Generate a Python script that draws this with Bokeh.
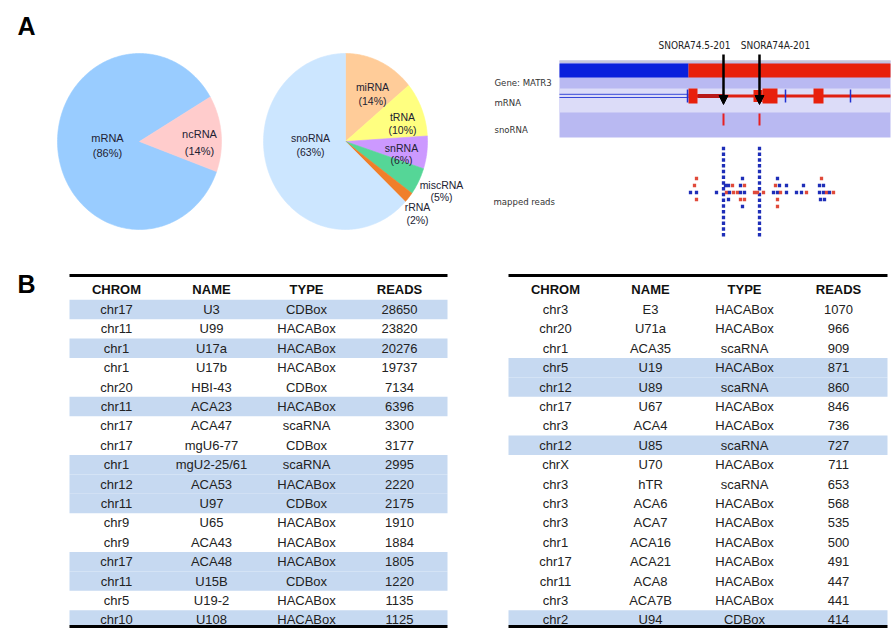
import numpy as np
from bokeh.plotting import figure
from bokeh.models import Range1d, Arrow, NormalHead
from bokeh.core.properties import value
from bokeh.embed import file_html
from bokeh.resources import INLINE

# ---------------- data ----------------
pie1_labels = ["mRNA", "ncRNA"]
pie1_values = [86, 14]
pie1_colors = ["#99CCFF", "#FFCCCC"]

pie2_labels = ["miRNA", "tRNA", "snRNA", "miscRNA", "rRNA", "snoRNA"]
pie2_values = [14, 10, 6, 5, 2, 63]
pie2_colors = ["#FFCC99", "#FFFF80", "#CC99FF", "#55D697", "#F07F2A", "#CCE6FF"]

col_headers = ["CHROM", "NAME", "TYPE", "READS"]

left_chrom = ["chr17", "chr11", "chr1", "chr1", "chr20", "chr11", "chr17", "chr17", "chr1",
              "chr12", "chr11", "chr9", "chr9", "chr17", "chr11", "chr5", "chr10"]
left_name = ["U3", "U99", "U17a", "U17b", "HBI-43", "ACA23", "ACA47", "mgU6-77", "mgU2-25/61",
             "ACA53", "U97", "U65", "ACA43", "ACA48", "U15B", "U19-2", "U108"]
left_type = ["CDBox", "HACABox", "HACABox", "HACABox", "CDBox", "HACABox", "scaRNA", "CDBox", "scaRNA",
             "HACABox", "CDBox", "HACABox", "HACABox", "HACABox", "CDBox", "HACABox", "HACABox"]
left_reads = [28650, 23820, 20276, 19737, 7134, 6396, 3300, 3177, 2995,
              2220, 2175, 1910, 1884, 1805, 1220, 1135, 1125]
left_shaded = [0, 2, 5, 8, 9, 10, 13, 14, 16]

right_chrom = ["chr3", "chr20", "chr1", "chr5", "chr12", "chr17", "chr3", "chr12", "chrX",
               "chr3", "chr3", "chr3", "chr1", "chr17", "chr11", "chr3", "chr2"]
right_name = ["E3", "U71a", "ACA35", "U19", "U89", "U67", "ACA4", "U85", "U70",
              "hTR", "ACA6", "ACA7", "ACA16", "ACA21", "ACA8", "ACA7B", "U94"]
right_type = ["HACABox", "HACABox", "scaRNA", "HACABox", "scaRNA", "HACABox", "HACABox", "scaRNA", "HACABox",
              "scaRNA", "HACABox", "HACABox", "HACABox", "HACABox", "HACABox", "HACABox", "CDBox"]
right_reads = [1070, 966, 909, 871, 860, 846, 736, 727, 711,
               653, 568, 535, 500, 491, 447, 441, 414]
right_shaded = [3, 4, 7, 16]

# genome browser (track positions in panel pixels)
gene_start, gene_split, gene_end = 559, 688, 890
exon_starts = [688, 753, 762, 813]
exon_ends = [697, 762, 777, 823]
exon_half = [7.5, 6, 7.5, 7.5]
tick_pos = [687, 785, 850]
snorna_names = ["SNORA74.5-201", "SNORA74A-201"]
snorna_pos = [723, 759]
peak_depth = [16, 16]
read_pos = [696, 694, 690, 696, 696, 716, 725, 728, 732, 726, 729, 733, 737, 728,
            742, 740, 744, 740, 744, 740, 744, 742, 754, 757, 763,
            777, 775, 779, 786, 773, 777, 780, 786, 777, 777,
            803, 796, 801, 806,
            821, 819, 823, 819, 823, 826, 829, 833, 820, 824]
read_lane = [-2, -1, 0, 0, 1, 0, -1, -1, -1, 0, 0, 0, 0, 1,
             -2, -1, -1, 0, 0, 1, 1, 2, 0, 0, 0,
             -2, -1, -1, -1, 0, 0, 0, 0, 1, 2,
             -1, 0, 0, 0,
             -2, -1, -1, 0, 0, 0, 0, 0, 1, 1]
read_strand = ["-", "-", "+", "+", "-", "+", "+", "+", "-", "-", "+", "-", "-", "+",
               "+", "+", "-", "+", "+", "-", "-", "+", "-", "-", "-",
               "+", "-", "+", "+", "+", "+", "-", "+", "-", "-",
               "+", "+", "+", "-",
               "-", "+", "+", "+", "+", "-", "+", "-", "+", "+"]

# ---------------- figure ----------------
W, H = 892, 635
p = figure(width=W, height=H, x_range=Range1d(0, W), y_range=Range1d(H, 0),
           output_backend="svg", toolbar_location=None,
           x_axis_location=None, y_axis_location=None, min_border=0)
p.xgrid.visible = False
p.ygrid.visible = False
p.outline_line_color = None

ARIAL = value("Liberation Sans")
NARROW = value("DejaVu Sans Condensed")


def pie(cx, cy, rx, ry, vals, colors, start_deg):
    total = float(sum(vals))
    xs, ys = [], []
    a0 = start_deg
    for v in vals:
        a1 = a0 + 360.0 * v / total
        th = np.radians(np.linspace(a0, a1, max(int(abs(a1 - a0)), 2) + 1))
        xs.append([cx] + list(cx + rx * np.sin(th)))
        ys.append([cy] + list(cy - ry * np.cos(th)))
        a0 = a1
    p.patches(xs, ys, fill_color=colors, line_color=colors, line_width=0.6)


pie(139, 141, 82, 88, pie1_values, pie1_colors, 110)
pie(345, 141, 82, 88, pie2_values, pie2_colors, 0)

# pie labels (layout positions)
pie1_lab_pos = [(107, 137, 152), (199, 133, 150)]
for lab, v, (lx, ly1, ly2) in zip(pie1_labels, pie1_values, pie1_lab_pos):
    p.text([lx, lx], [ly1, ly2], text=[lab, "(%d%%)" % v], text_font=ARIAL, text_font_size="11px",
           text_align="center", text_baseline="middle", text_color="#222233")
pie2_lab_pos = [(372, 86, 100), (402, 116, 129), (401, 147, 159), (441, 184, 196),
                (417, 206, 219), (310, 137, 151)]
for lab, v, (lx, ly1, ly2) in zip(pie2_labels, pie2_values, pie2_lab_pos):
    p.text([lx, lx], [ly1, ly2], text=[lab, "(%d%%)" % v], text_font=ARIAL, text_font_size="10.5px",
           text_align="center", text_baseline="middle", text_color="#222233")

# panel letters
p.text([26, 26], [25, 283], text=["A", "B"], text_font=ARIAL, text_font_size="25px",
       text_font_style="bold", text_align="center", text_baseline="middle", text_color="black")

# ---------------- genome browser ----------------
p.quad(left=[gene_start], right=[gene_end], top=[60], bottom=[137], fill_color="#B9B9F2", line_color=None)
p.quad(left=[gene_start], right=[gene_end], top=[60], bottom=[62], fill_color="#C8C8D8", line_color=None)
p.quad(left=[gene_start], right=[gene_end], top=[88], bottom=[112], fill_color="#DCDCF8", line_color=None)
p.quad(left=[gene_start, gene_split], right=[gene_split, gene_end], top=[63, 63], bottom=[77, 77],
       fill_color=["#0A20DC", "#E8200C"], line_color=None)
# mRNA structure
p.segment(x0=[gene_start, gene_start], y0=[93.8, 97], x1=[gene_split, gene_split], y1=[93.8, 97],
          line_color="#3848D8", line_width=1)
p.segment(x0=[gene_split], y0=[95.5], x1=[gene_end], y1=[95.5], line_color="#E02010", line_width=3)
p.segment(x0=[697], y0=[95.5], x1=[723], y1=[95.5], line_color="#B81818", line_width=4)
p.quad(left=exon_starts, right=exon_ends,
       top=[95.5 - h for h in exon_half], bottom=[95.5 + h for h in exon_half],
       fill_color="#E8200C", line_color=None)
p.segment(x0=tick_pos, y0=[89] * len(tick_pos), x1=tick_pos, y1=[102] * len(tick_pos),
          line_color="#2030D0", line_width=1.5)
# snoRNA marks
p.segment(x0=snorna_pos, y0=[113] * 2, x1=snorna_pos, y1=[125] * 2, line_color="#E82020", line_width=2)

# arrows + names
for nm, xpos in zip(snorna_names, snorna_pos):
    p.add_layout(Arrow(end=NormalHead(size=9, fill_color="black", line_color="black"),
                       x_start=xpos, y_start=54, x_end=xpos, y_end=104,
                       line_color="black", line_width=2.5))
p.text([694, 775], [45, 45], text=snorna_names, text_font=NARROW, text_font_size="10px",
       text_align="center", text_baseline="middle", text_color="#222222")

# track labels
p.text([494, 494, 494, 493], [82, 102, 129, 201],
       text=["Gene: MATR3", "mRNA", "snoRNA", "mapped reads"],
       text_font=NARROW, text_font_size="9.5px", text_align="left", text_baseline="middle",
       text_color="#333333")

# mapped reads
px, py = [], []
for xpos, d in zip(snorna_pos, peak_depth):
    for k in range(d):
        px.append(xpos)
        py.append(148 + 5.75 * k)
p.scatter(px, py, marker="square", size=3.3, fill_color="#1E2EB8", line_color=None)
rc = ["#1E2EB8" if s == "+" else "#E04A3A" for s in read_strand]
p.scatter(read_pos, [192 + 7 * l for l in read_lane], marker="square", size=3.3, fill_color=rc, line_color=None)

# ---------------- tables ----------------
def table(x0, x1, colx, chrom, name, typ, reads, shaded):
    n = len(chrom)
    ys = [309 + 19.4 * i for i in range(n)]
    p.quad(left=[x0] * len(shaded), right=[x1] * len(shaded),
           top=[ys[i] - 9.7 for i in shaded], bottom=[min(ys[i] + 9.7, 625) for i in shaded],
           fill_color="#C6D9F1", line_color=None)
    p.segment(x0=[x0, x0], y0=[275, 626], x1=[x1, x1], y1=[275, 626], line_color="black", line_width=3)
    p.text(colx, [289] * 4, text=col_headers, text_font=ARIAL, text_font_size="13px",
           text_font_style="bold", text_align="center", text_baseline="middle", text_color="#111111")
    for cx, vals in zip(colx, [chrom, name, typ, [str(r) for r in reads]]):
        p.text([cx] * n, ys, text=vals, text_font=ARIAL, text_font_size="13px",
               text_align="center", text_baseline="middle", text_color="#222222")


table(69, 447, [116, 211, 306, 399], left_chrom, left_name, left_type, left_reads, left_shaded)
table(508, 887, [555, 650, 744, 838], right_chrom, right_name, right_type, right_reads, right_shaded)

open("out.html", "w").write(file_html(p, INLINE))
